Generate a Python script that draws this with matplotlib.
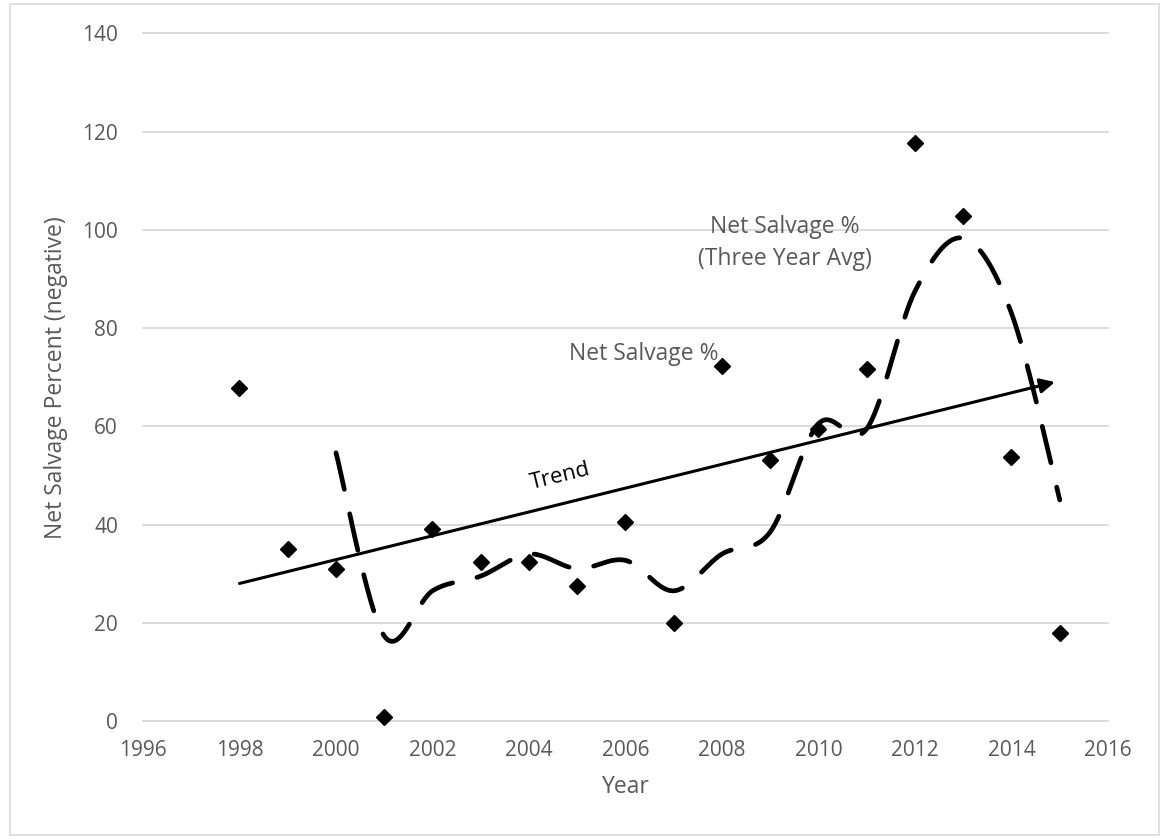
import numpy as np
import matplotlib
matplotlib.use('Agg')
import matplotlib.pyplot as plt
from matplotlib.patches import Rectangle

# ---- data ----
years = list(range(1998, 2016))
net_salvage = [67.7, 35.0, 30.9, 0.9, 39.1, 32.3, 32.3, 27.5, 40.6, 19.9,
               72.2, 53.1, 59.4, 71.7, 117.7, 102.9, 53.8, 18.0]
avg_years = list(range(2000, 2016))
avg_values = [54.6, 17.3, 26.5, 29.5, 34.0, 31.0, 32.7, 26.5, 34.0, 38.5,
              60.5, 59.5, 87.5, 98.3, 83.0, 45.0]
trend_x = [1998, 2014.9]
trend_y = [28.0, 69.0]
x_ticks = list(range(1996, 2017, 2))
y_ticks = list(range(0, 141, 20))

x_label = "Year"
y_label = "Net Salvage Percent (negative)"
label_series = "Net Salvage %"
label_avg = "Net Salvage %\n(Three Year Avg)"
label_trend = "Trend"

plt.rcParams['font.family'] = ['Open Sans', 'DejaVu Sans']
plt.rcParams['lines.scale_dashes'] = False
GRAY = '#595959'


def smooth(xs, ys, n=40):
    """Catmull-Rom (Excel-like) smoothing through the given points."""
    xs = np.asarray(xs, float)
    ys = np.asarray(ys, float)
    px = np.concatenate([[xs[0]], xs, [xs[-1]]])
    py = np.concatenate([[ys[0]], ys, [ys[-1]]])
    ox, oy = [], []
    for i in range(1, len(px) - 2):
        p0x, p1x, p2x, p3x = px[i - 1:i + 3]
        p0y, p1y, p2y, p3y = py[i - 1:i + 3]
        c1x, c1y = p1x + (p2x - p0x) / 6, p1y + (p2y - p0y) / 6
        c2x, c2y = p2x - (p3x - p1x) / 6, p2y - (p3y - p1y) / 6
        t = np.linspace(0, 1, n)
        b0, b1, b2, b3 = (1 - t) ** 3, 3 * (1 - t) ** 2 * t, 3 * (1 - t) * t ** 2, t ** 3
        ox.append(b0 * p1x + b1 * c1x + b2 * c2x + b3 * p2x)
        oy.append(b0 * p1y + b1 * c1y + b2 * c2y + b3 * p2y)
    return np.concatenate(ox), np.concatenate(oy)


fig = plt.figure(figsize=(11.68, 8.39), dpi=100)
ax = fig.add_axes([143 / 1168, 1 - 721 / 839, (1108 - 143) / 1168, (721 - 33.3) / 839])

ax.set_xlim(1996, 2016)
ax.set_ylim(0, 140)
ax.set_xticks(x_ticks)
ax.set_yticks(y_ticks)
for s in ax.spines.values():
    s.set_visible(False)
ax.grid(axis='y', color='#d9d9d9', lw=1.3)
ax.grid(axis='x', visible=False)
for gl in ax.get_ygridlines():
    gl.set_clip_on(False)
ax.set_axisbelow(True)
ax.tick_params(axis='both', length=0, labelsize=15, labelcolor=GRAY)
ax.tick_params(axis='y', pad=18)
ax.tick_params(axis='x', pad=14)

ax.set_xlabel(x_label, fontsize=16.5, color=GRAY, labelpad=10)
ax.set_ylabel(y_label, fontsize=16.5, color=GRAY, labelpad=10)

# three-year average smoothed dashed line
sx, sy = smooth(avg_years, avg_values)
ax.plot(sx, sy, color='black', lw=3.4, linestyle=(0, (27, 18)),
        dash_capstyle='round', solid_capstyle='round', zorder=3)

# trend arrow
ax.annotate('', xy=(trend_x[1], trend_y[1]), xytext=(trend_x[0], trend_y[0]),
            arrowprops=dict(arrowstyle='-|>', color='black', lw=2.2,
                            mutation_scale=22, shrinkA=0, shrinkB=0),
            zorder=4)

# scatter
ax.plot(years, net_salvage, linestyle='none', marker='D', color='black',
        markersize=8, clip_on=False, zorder=5)

# annotations
ax.text(2004.65, 49.7, label_trend, rotation=13.7, fontsize=16, color='black',
        ha='center', va='center', rotation_mode='anchor')
ax.text(2006.37, 74.7, label_series, fontsize=16.5, color=GRAY,
        ha='center', va='center')
ax.text(2009.3, 97.3, label_avg, fontsize=16.5, color=GRAY,
        ha='center', va='center', linespacing=1.4, multialignment='center')

fig.patches.append(Rectangle((9.5 / 1168, 1 - 835 / 839), (1159 - 9.5) / 1168,
                             (835 - 4) / 839, transform=fig.transFigure,
                             fill=False, ec='#d9d9d9', lw=1.2))

fig.savefig('out.png', dpi=100, facecolor='white')
